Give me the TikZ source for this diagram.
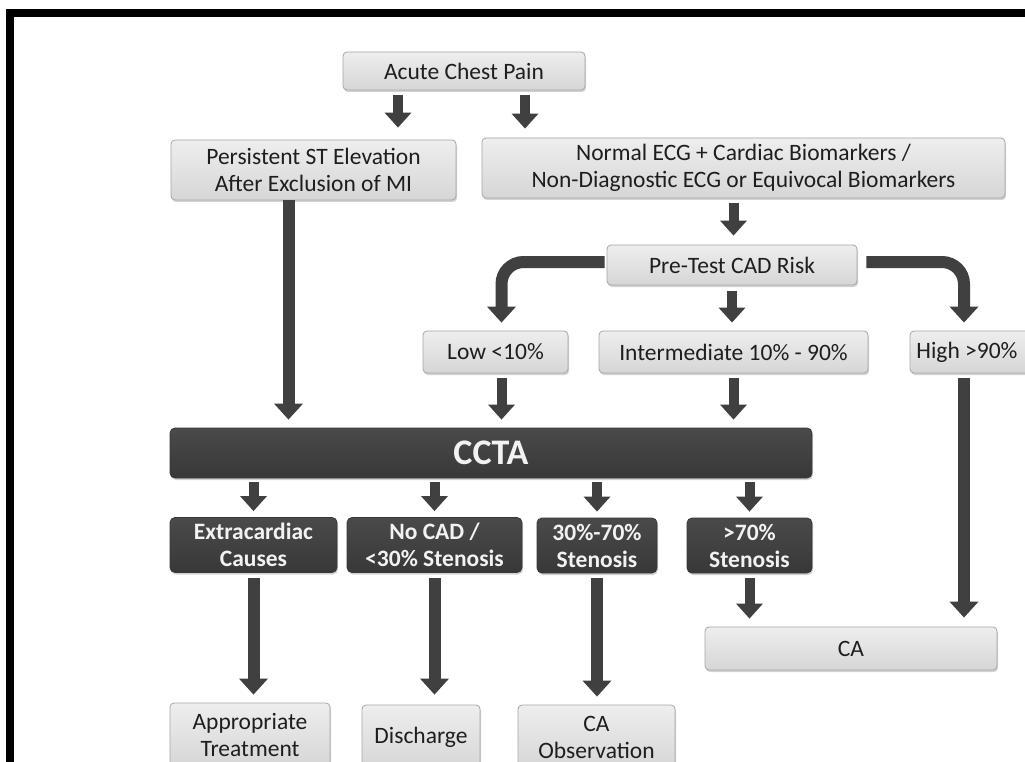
\documentclass[tikz,border=0pt]{standalone}
\usepackage{fontspec}
\setmainfont{Carlito}
\usetikzlibrary{arrows.meta,shadows,calc}
\definecolor{arrowgray}{HTML}{404040}
\definecolor{boxborder}{HTML}{A6A6A6}
\definecolor{boxtop}{HTML}{EEEEEE}
\definecolor{boxbot}{HTML}{D6D6D6}
\definecolor{textdark}{HTML}{1E1E1E}
\definecolor{darktop}{HTML}{4A4A4A}
\definecolor{darkbot}{HTML}{383838}
\definecolor{darktext}{HTML}{F2F2F2}
\tikzset{
  lbox/.style={draw=boxborder, line width=0.8pt, rounded corners=4pt,
    top color=boxtop, bottom color=boxbot,
    drop shadow={shadow xshift=1pt, shadow yshift=-2pt, opacity=0.35},
    align=center, text=textdark, inner sep=0pt,
    font=\fontsize{23.5}{27}\selectfont},
  dbox/.style={draw=darkbot, line width=0.8pt, rounded corners=5pt,
    top color=darktop, bottom color=darkbot,
    drop shadow={shadow xshift=1pt, shadow yshift=-2pt, opacity=0.35},
    align=center, text=darktext, inner sep=0pt,
    font=\bfseries\fontsize{23.5}{27}\selectfont},
  arr/.style={draw=arrowgray, line width=10pt,
    -{Triangle[width=26pt,length=15pt]}},
  bigarr/.style={draw=arrowgray, line width=12pt,
    -{Triangle[width=28pt,length=16pt]}}
}
\begin{document}
\begin{tikzpicture}[x=1pt,y=-1pt]
\useasboundingbox (0,0) rectangle (1025,762);
\clip (0,0) rectangle (1025,762);
\fill[white] (0,0) rectangle (1025,762);
\fill[black] (6,9) rectangle (1025,17);
\fill[black] (6,9) rectangle (14,762);

% light boxes
\node[lbox, minimum width=242pt, minimum height=38pt] (acp) at (464,71) {Acute Chest Pain};
\node[lbox, minimum width=285pt, minimum height=60pt] (pst) at (313.5,170) {Persistent ST Elevation\\After Exclusion of MI};
\node[lbox, minimum width=523pt, minimum height=60pt] (necg) at (743.5,168) {Normal ECG + Cardiac Biomarkers /\\Non-Diagnostic ECG or Equivocal Biomarkers};
\node[lbox, minimum width=250pt, minimum height=40pt] (pre) at (732,265) {Pre-Test CAD Risk};
\node[lbox, minimum width=145pt, minimum height=42pt] (low) at (495.5,352) {Low <10\%};
\node[lbox, minimum width=269pt, minimum height=42pt] (inter) at (733.5,352) {Intermediate 10\% - 90\%};
\node[lbox, minimum width=124pt, minimum height=42pt] (high) at (972,352) {\hspace*{-10pt}High >90\%};
\node[lbox, minimum width=292pt, minimum height=43pt] (ca) at (851,648.5) {CA};
\node[lbox, minimum width=160pt, minimum height=64pt] (appt) at (250,735) {Appropriate\\Treatment};
\node[lbox, minimum width=118pt, minimum height=64pt] (disc) at (421,737) {Discharge};
\node[lbox, minimum width=157pt, minimum height=64pt] (caobs) at (596.5,737) {CA\\Observation};

% dark boxes
\node[dbox, minimum width=642pt, minimum height=50pt, font=\bfseries\fontsize{36}{40}\selectfont] (ccta) at (491,453) {CCTA};
\node[dbox, minimum width=167pt, minimum height=55pt] (extra) at (253.5,545) {Extracardiac\\Causes};
\node[dbox, minimum width=175pt, minimum height=55pt] (nocad) at (434.5,545) {No CAD /\\<30\% Stenosis};
\node[dbox, minimum width=120pt, minimum height=55pt] (mid) at (597,545.5) {30\%-70\%\\Stenosis};
\node[dbox, minimum width=125pt, minimum height=55pt] (sev) at (749.5,545.5) {>70\%\\Stenosis};

% arrows
\draw[arr, shorten <=5pt, shorten >=12pt] ([xshift=-66pt]acp.south) -- ([xshift=-66pt]acp.south |- pst.north);
\draw[arr, shorten <=5pt, shorten >=9pt] ([xshift=61pt]acp.south) -- ([xshift=61pt]acp.south |- necg.north);
\draw[arr, shorten <=5pt, shorten >=9pt] ([xshift=-10pt]necg.south) -- ([xshift=-10pt]necg.south |- pre.north);
\draw[bigarr, rounded corners=22pt, shorten <=2pt, shorten >=8pt] ([yshift=3pt]pre.west) -| ([xshift=6pt]low.north);
\draw[bigarr, rounded corners=22pt, shorten <=9pt, shorten >=8pt] ([yshift=3pt]pre.east) -| ([xshift=-8pt]high.north);
\draw[arr, shorten <=6pt, shorten >=8pt] (pre.south) -- (pre.south |- inter.north);
\draw[bigarr, shorten <=0pt, shorten >=8pt] ([xshift=-25pt]pst.south) -- ([xshift=-25pt]pst.south |- ccta.north);
\draw[arr, shorten <=5pt, shorten >=8pt] ([xshift=6pt]low.south) -- ([xshift=6pt]low.south |- ccta.north);
\draw[arr, shorten <=5pt, shorten >=8pt] (inter.south) -- (inter.south |- ccta.north);
\draw[bigarr, shorten <=5pt, shorten >=9pt] ([xshift=-8pt]high.south) -- ([xshift=-8pt]high.south |- ca.north);
\draw[arr, shorten <=4pt, shorten >=6pt] (extra.north |- ccta.south) -- (extra.north);
\draw[arr, shorten <=4pt, shorten >=6pt] (nocad.north |- ccta.south) -- (nocad.north);
\draw[arr, shorten <=4pt, shorten >=6pt] (mid.north |- ccta.south) -- (mid.north);
\draw[arr, shorten <=4pt, shorten >=6pt] (sev.north |- ccta.south) -- (sev.north);
\draw[bigarr, shorten <=5pt, shorten >=8pt] (extra.south) -- (extra.south |- appt.north);
\draw[bigarr, shorten <=5pt, shorten >=10pt] (nocad.south) -- (nocad.south |- disc.north);
\draw[bigarr, shorten <=5pt, shorten >=8pt] (mid.south) -- (mid.south |- caobs.north);
\draw[arr, shorten <=5pt, shorten >=8pt] (sev.south) -- (sev.south |- ca.north);
\end{tikzpicture}
\end{document}
